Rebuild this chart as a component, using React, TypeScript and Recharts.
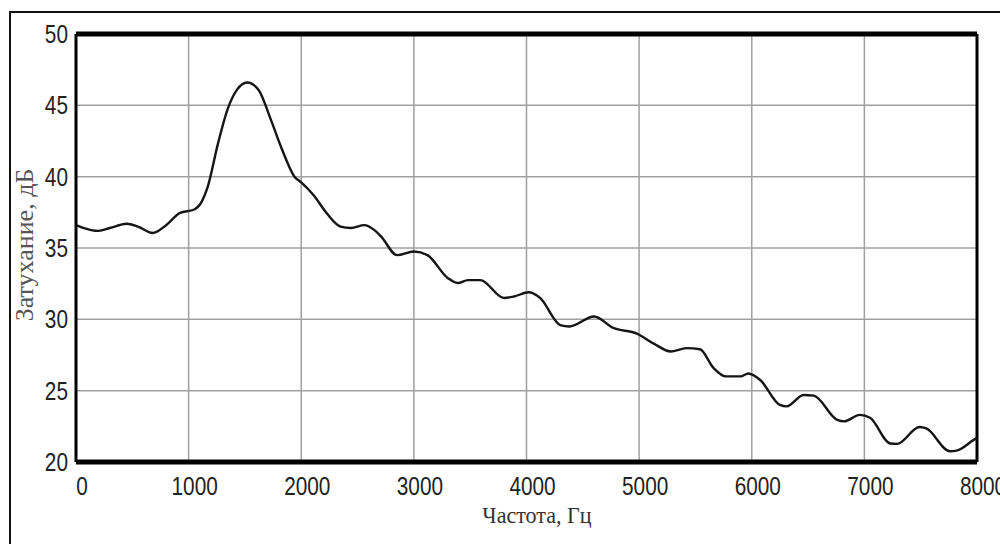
import React from 'react';
import { LineChart, Line, XAxis, YAxis, CartesianGrid, ReferenceLine } from 'recharts';

// частота, Гц
const freqs = [
  0, 50, 200, 300, 450, 550, 680, 800, 920, 1050, 1120, 1170, 1260, 1345, 1430, 1520, 1620, 1730, 1820, 1940,
  2000, 2110, 2230, 2350, 2440, 2560, 2650, 2710, 2850, 3000, 3120, 3300, 3390, 3480, 3590, 3800, 3890, 4020,
  4120, 4300, 4380, 4600, 4770, 4980, 5130, 5280, 5420, 5540, 5660, 5770, 5900, 5970, 6075, 6250, 6310, 6460,
  6550, 6760, 6820, 6960, 7050, 7230, 7290, 7490, 7550, 7760, 7820, 7970, 8000,
];

// затухание, дБ
const attenuation = [
  36.6, 36.45, 36.2, 36.4, 36.7, 36.5, 36.05, 36.6, 37.45, 37.7, 38.3, 39.3, 42.3, 44.7, 46.1, 46.6, 46.1, 44.0, 42.1, 40.0,
  39.6, 38.7, 37.4, 36.5, 36.4, 36.6, 36.25, 35.8, 34.5, 34.75, 34.5, 32.9, 32.55, 32.75, 32.75, 31.5, 31.6, 31.9,
  31.5, 29.6, 29.5, 30.2, 29.4, 29.0, 28.3, 27.75, 27.98, 27.9, 26.6, 26.0, 26.0, 26.2, 25.75, 24.0, 23.9, 24.7,
  24.65, 22.95, 22.85, 23.3, 23.1, 21.3, 21.27, 22.45, 22.35, 20.75, 20.8, 21.55, 21.7,
];

const xTicks = [0, 1000, 2000, 3000, 4000, 5000, 6000, 7000, 8000];
const yTicks = [20, 25, 30, 35, 40, 45, 50];

const data = freqs.map((f, i) => ({ f, v: attenuation[i] }));

const font = '"Liberation Sans", Arial, sans-serif';
const serif = '"Liberation Serif", "Times New Roman", serif';

const XTick = (props: any) => {
  const { x, y, payload } = props;
  return (
    <g transform={`translate(${x + 6},${y})`}>
      <text transform="scale(0.8,1)" textAnchor="middle" dy={25} fontSize={26} fontFamily={font} fill="#222">
        {payload.value}
      </text>
    </g>
  );
};

const YTick = (props: any) => {
  const { x, y, payload } = props;
  return (
    <g transform={`translate(${x},${y})`}>
      <text transform="scale(0.8,1)" textAnchor="end" dy={9} fontSize={26} fontFamily={font} fill="#222">
        {payload.value}
      </text>
    </g>
  );
};

export default function App() {
  return (
    <div style={{ position: 'absolute', left: 0, top: 0, width: 1000, height: 544, background: '#fff', overflow: 'hidden' }}>
      <div style={{ position: 'absolute', left: 9, top: 11, width: 1000, height: 540, borderLeft: '2px solid #111', borderTop: '2px solid #111' }} />
      <LineChart width={1000} height={544} data={data} margin={{ top: 34, right: 23, left: 16, bottom: 22 }}>
        <CartesianGrid stroke="#a0a0a0" strokeWidth={1.5} />
        <XAxis
          dataKey="f"
          type="number"
          domain={[0, 8000]}
          ticks={xTicks}
          tick={<XTick />}
          tickLine={false}
          axisLine={{ stroke: '#000', strokeWidth: 5 }}
          height={60}
        />
        <YAxis
          type="number"
          domain={[20, 50]}
          ticks={yTicks}
          tick={<YTick />}
          tickLine={false}
          axisLine={{ stroke: '#000', strokeWidth: 3 }}
          width={60}
        />
        <ReferenceLine y={50} stroke="#000" strokeWidth={5} />
        <ReferenceLine x={8000} stroke="#000" strokeWidth={3} />
        <Line type="monotone" dataKey="v" stroke="#151515" strokeWidth={2.4} dot={false} isAnimationActive={false} />
        <text
          transform="translate(537,523) scale(0.92,1)"
          textAnchor="middle"
          fontSize={24}
          fontFamily={serif}
          fill="#333"
        >
          Частота, Гц
        </text>
        <text
          transform="translate(33,245) rotate(-90)"
          textAnchor="middle"
          fontSize={26}
          fontFamily={serif}
          fill="#555"
        >
          Затухание, дБ
        </text>
      </LineChart>
    </div>
  );
}
